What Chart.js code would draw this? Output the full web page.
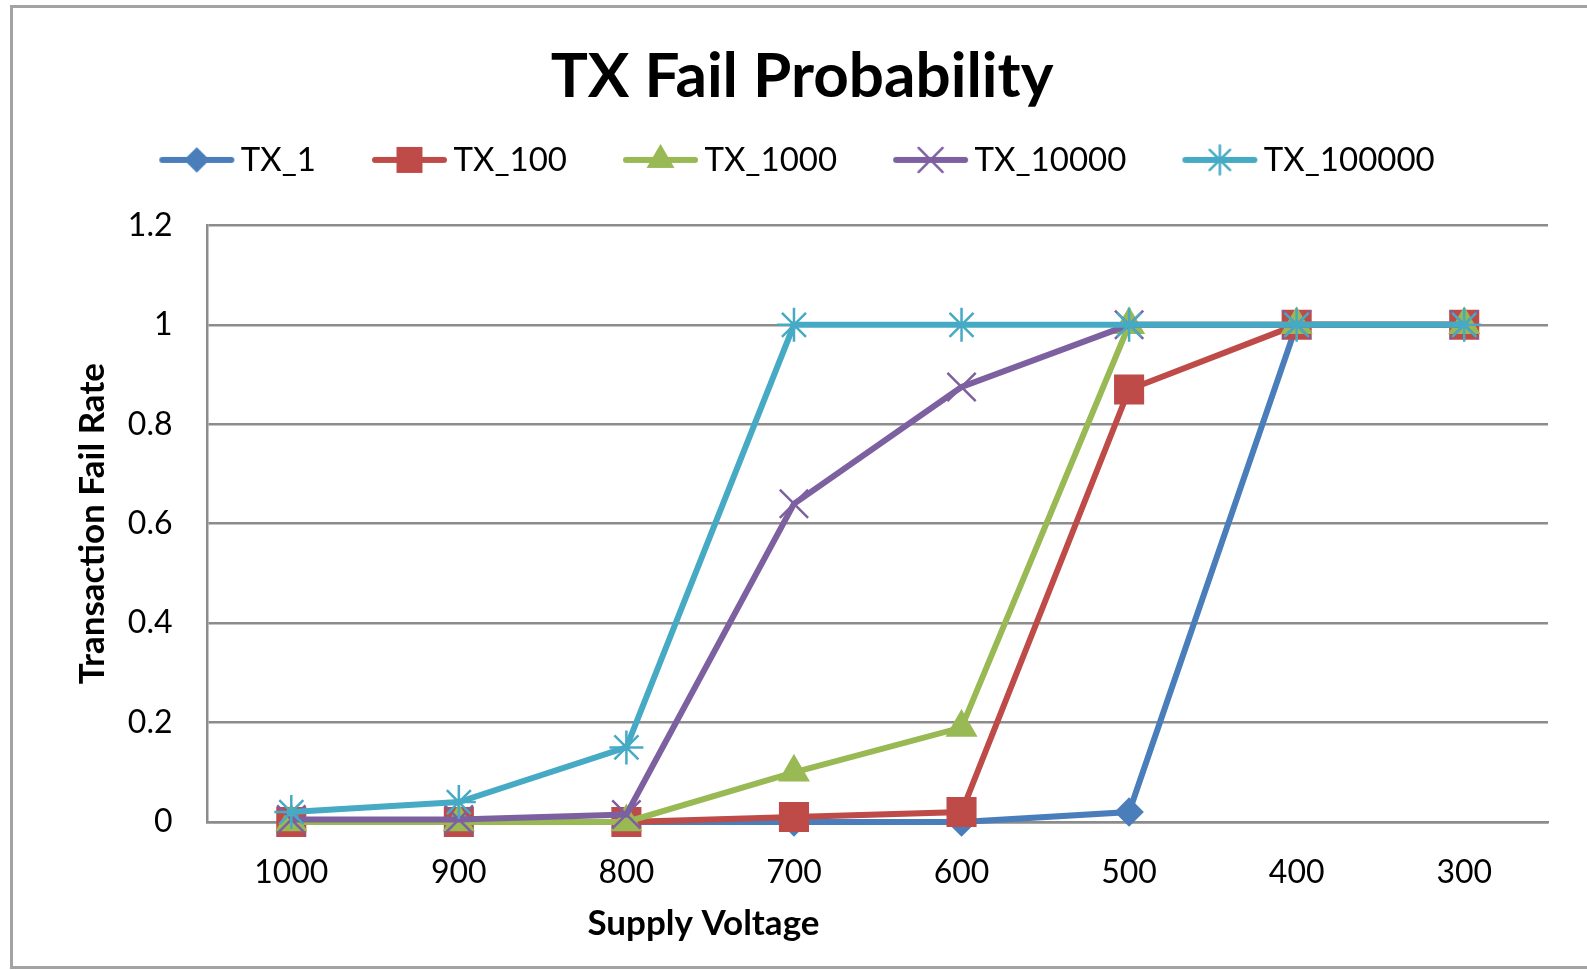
<!DOCTYPE html>
<html>
<head>
<meta charset="utf-8">
<title>TX Fail Probability</title>
<script src="https://cdn.jsdelivr.net/npm/chart.js@4/dist/chart.umd.min.js"></script>
<style>
  html, body { margin: 0; padding: 0; background: #fff; overflow: hidden; }
  #frame { position: absolute; left: 10px; top: 5px; width: 1600px; height: 958px;
           border: 3px solid #a3a3a3; }
  #chartCanvas { position: absolute; left: 0; top: 0; }
</style>
</head>
<body>
<div id="frame"></div>
<canvas id="chartCanvas" width="1587" height="970"></canvas>
<script>
// supply voltage steps (x axis) and fail rate per transaction count
const voltages = ['1000', '900', '800', '700', '600', '500', '400', '300'];
const tx1      = [0, 0, 0, 0, 0, 0.02, 1, 1];
const tx100    = [0, 0, 0, 0.01, 0.02, 0.87, 1, 1];
const tx1000   = [0, 0, 0, 0.1, 0.19, 1, 1, 1];
const tx10000  = [0.005, 0.005, 0.015, 0.64, 0.875, 1, 1, 1];
const tx100000 = [0.02, 0.04, 0.15, 1, 1, 1, 1, 1];
const yTicks   = [0, 0.2, 0.4, 0.6, 0.8, 1, 1.2];

const FONT = 'Lato, "Open Sans", sans-serif';

const series = [
  {label: 'TX_1',      data: tx1,      color: '#4a7ebb', style: 'rectRot',  r: 13},
  {label: 'TX_100',    data: tx100,    color: '#be4b48', style: 'rect',     r: 19.5},
  {label: 'TX_1000',   data: tx1000,   color: '#98b954', style: 'triangle', r: 16},
  {label: 'TX_10000',  data: tx10000,  color: '#7d60a0', style: 'crossRot', r: 20},
  {label: 'TX_100000', data: tx100000, color: '#46aac5', style: 'star',     r: 17}
];

// little line+marker swatch for the legend
function legendSwatch(s){
  const c = document.createElement('canvas');
  c.width = 77; c.height = 40;
  const ctx = c.getContext('2d');
  ctx.strokeStyle = s.color;
  ctx.lineWidth = 6;
  ctx.lineCap = 'round';
  ctx.beginPath(); ctx.moveTo(4, 20); ctx.lineTo(73, 20); ctx.stroke();
  ctx.fillStyle = s.color;
  ctx.lineWidth = 2.5;
  Chart.helpers.drawPoint(ctx, {pointStyle: s.style, radius: s.r * 0.85, rotation: 0, borderWidth: 2.5}, 38.5, 20);
  return c;
}

// x axis title sits left of centre, under the 800/700 gap
const xTitlePlugin = {
  id: 'xTitle',
  afterDraw(chart){
    const xs = chart.scales.x;
    const ctx = chart.ctx;
    ctx.save();
    ctx.font = 'bold 35px ' + FONT;
    ctx.fillStyle = '#000';
    ctx.textAlign = 'center';
    ctx.textBaseline = 'middle';
    ctx.fillText('Supply Voltage', xs.left + xs.width * 0.37, chart.chartArea.bottom + 102);
    ctx.restore();
  }
};

function draw(){
  Chart.defaults.font.family = FONT;
  Chart.defaults.color = '#000';

  const datasets = series.map((s, i) => ({
    label: s.label,
    data: s.data,
    borderColor: s.color,
    backgroundColor: s.color,
    borderWidth: 6,
    pointStyle: s.style,
    pointRadius: s.r,
    pointBorderWidth: 2.5,
    pointBorderColor: s.color,
    pointBackgroundColor: s.color,
    tension: 0,
    clip: false,
    order: series.length - i,
    swatch: legendSwatch(s)
  }));

  new Chart(document.getElementById('chartCanvas'), {
    type: 'line',
    data: {labels: voltages, datasets},
    options: {
      responsive: false,
      animation: false,
      layout: {padding: {left: 56, right: 39, top: 0, bottom: 0}},
      plugins: {
        title: {
          display: true,
          text: 'TX Fail Probability',
          font: {size: 62, weight: 'bold'},
          padding: {top: 40, bottom: -37}
        },
        legend: {
          display: true,
          position: 'top',
          labels: {
            font: {size: 33},
            padding: 66,
            usePointStyle: true,
            pointStyleWidth: 55,
            sort: (a, b) => a.datasetIndex - b.datasetIndex,
            generateLabels(chart){
              const items = Chart.defaults.plugins.legend.labels.generateLabels(chart);
              items.forEach(it => { it.pointStyle = chart.data.datasets[it.datasetIndex].swatch; });
              return items;
            }
          }
        },
        // blank gap between the legend and the plot
        subtitle: {
          display: true,
          text: '',
          weight: 500,
          font: {size: 10},
          padding: {top: 27, bottom: 0}
        },
        tooltip: {enabled: false}
      },
      scales: {
        x: {
          type: 'category',
          offset: true,
          grid: {display: false},
          border: {display: true, color: '#8c8c8c', width: 2.5},
          ticks: {font: {size: 32}, padding: 23, maxRotation: 0},
          afterFit(scale){ scale.height = 148; }
        },
        y: {
          min: 0,
          max: 1.2,
          afterBuildTicks(scale){ scale.ticks = yTicks.map(v => ({value: v})); },
          ticks: {
            font: {size: 32},
            padding: 35,
            callback: v => String(+Number(v).toFixed(1))
          },
          grid: {color: '#8c8c8c', lineWidth: 2.5, drawTicks: false},
          border: {display: true, color: '#8c8c8c', width: 2.5},
          title: {
            display: true,
            text: 'Transaction Fail Rate',
            font: {size: 35, weight: 'bold'},
            padding: {top: 16, bottom: 0}
          },
          afterFit(scale){ scale.width = 151.5; }
        }
      }
    },
    plugins: [xTitlePlugin]
  });
}

Promise.all([
  document.fonts.load('32px Lato'),
  document.fonts.load('bold 32px Lato')
]).then(draw, draw);
</script>
</body>
</html>
